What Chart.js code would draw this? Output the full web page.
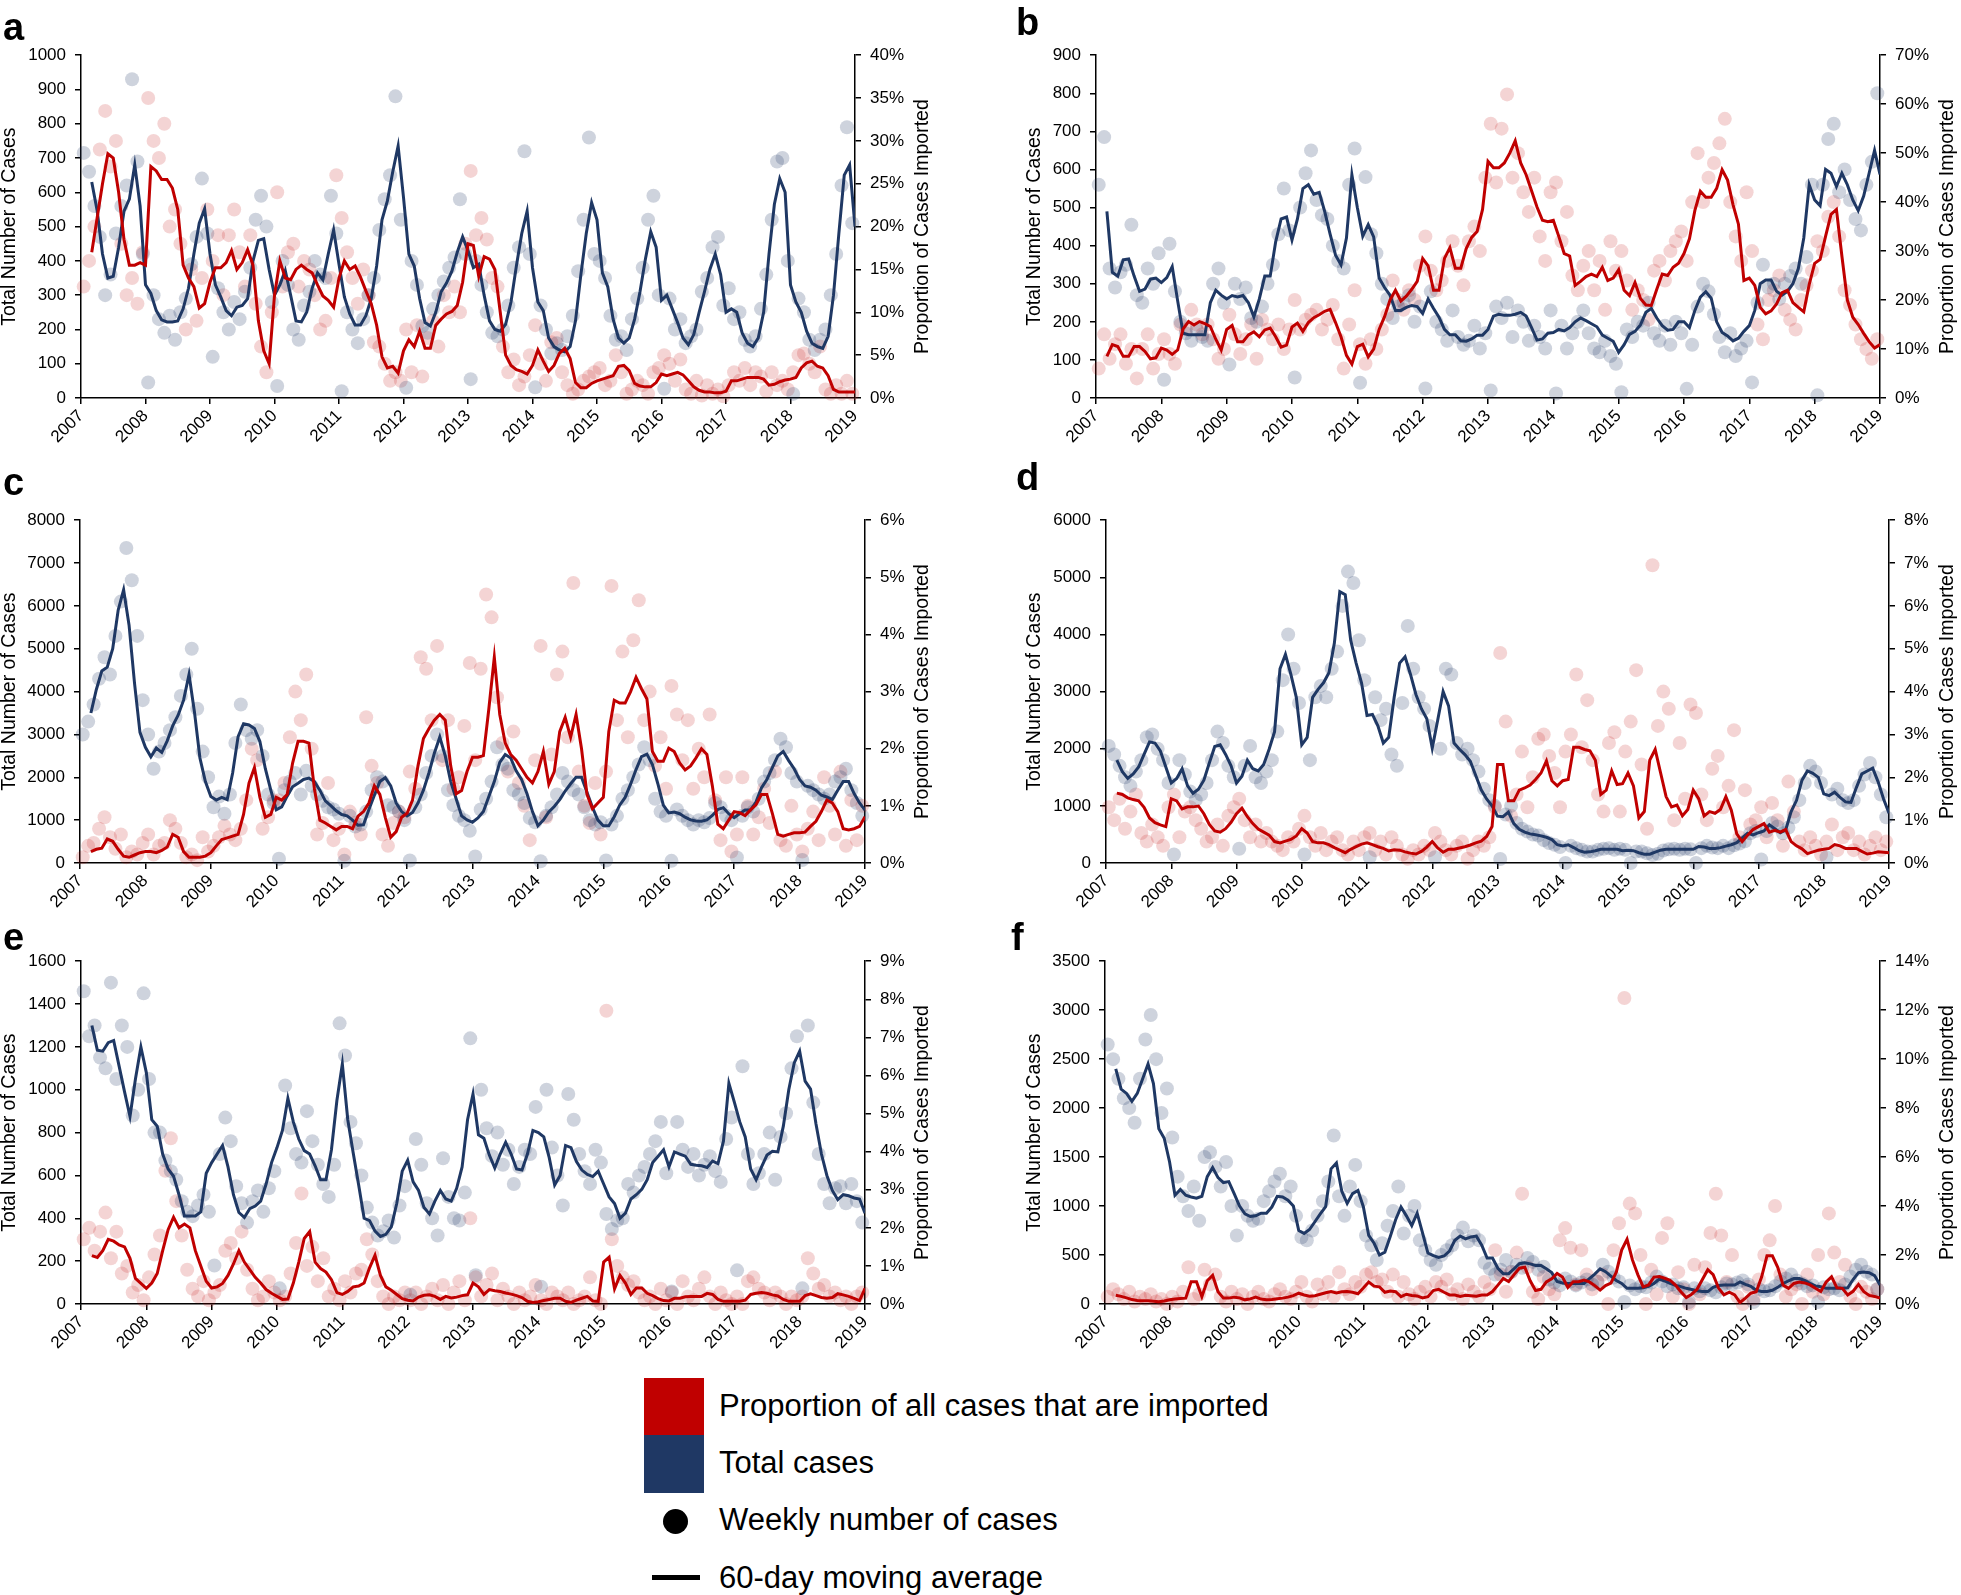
<!DOCTYPE html>
<html>
<head>
<meta charset="utf-8">
<script src="https://cdn.jsdelivr.net/npm/chart.js@4.4.1/dist/chart.umd.min.js"></script>
<style>
  html, body { margin: 0; padding: 0; background: #fff; }
  body { width: 1961px; height: 1595px; position: relative; overflow: hidden;
         font-family: "Liberation Sans", Arial, sans-serif; color: #000; }
  canvas { position: absolute; }
  .tag { position: absolute; font: bold 38px/38px "Liberation Sans", Arial, sans-serif; }
  .swatch { position: absolute; }
  .leg { position: absolute; left: 719px; height: 40px; line-height: 40px; font-size: 31px; white-space: nowrap; }
</style>
</head>
<body>
<canvas id="pa"></canvas><canvas id="pb"></canvas>
<canvas id="pc"></canvas><canvas id="pd"></canvas>
<canvas id="pe"></canvas><canvas id="pf"></canvas>

<div class="tag" style="left:3px;top:8px">a</div>
<div class="tag" style="left:1016px;top:3px">b</div>
<div class="tag" style="left:3px;top:463px">c</div>
<div class="tag" style="left:1016px;top:458px">d</div>
<div class="tag" style="left:3px;top:918px">e</div>
<div class="tag" style="left:1011px;top:918px">f</div>

<!-- legend -->
<div class="swatch" style="left:644px;top:1378px;width:60px;height:57px;background:#C00000"></div>
<div class="swatch" style="left:644px;top:1435px;width:60px;height:58px;background:#1F3864"></div>
<div class="swatch" style="left:663px;top:1509px;width:25px;height:25px;border-radius:50%;background:#000"></div>
<div class="swatch" style="left:652px;top:1575px;width:48px;height:5px;background:#000"></div>
<div class="leg" style="top:1386px">Proportion of all cases that are imported</div>
<div class="leg" style="top:1443px">Total cases</div>
<div class="leg" style="top:1500px">Weekly number of cases</div>
<div class="leg" style="top:1558px">60-day moving average</div>

<script>
// ---- data (monthly samples; x = 2007 + month/12) ----
const YEAR_TICKS = [2007, 2008, 2009, 2010, 2011, 2012, 2013, 2014, 2015, 2016, 2017, 2018, 2019];

// panel a
const aTotal = [
  null, null, 630, 547, 420, 350, 355, 440, 545, 580, 680, 560,
  330, 305, 255, 228, 222, 222, 225, 260, 320, 420, 510, 552,
  420, 330, 295, 255, 240, 265, 270, 290, 400, 460, 465, 375,
  300, 330, 372, 300, 225, 222, 251, 320, 365, 345, 420, 490,
  390, 295, 245, 213, 213, 240, 290, 385, 520, 575, 660, 735,
  585, 420, 385, 290, 220, 210, 250, 310, 335, 370, 425, 470,
  430, 380, 390, 300, 225, 200, 195, 215, 280, 385, 480, 545,
  380, 280, 255, 175, 150, 140, 135, 150, 225, 360, 480, 570,
  520, 365, 325, 230, 175, 160, 175, 230, 310, 405, 485, 440,
  285, 300, 260, 220, 175, 155, 185, 250, 310, 375, 420, 360,
  250, 260, 250, 190, 160, 150, 175, 250, 420, 565, 640, 600,
  330, 280, 250, 195, 160, 150, 145, 180, 300, 480, 650, 680,
  500];
const aImport = [
  null, null, 17, 21, 25, 28.5, 28, 24, 18.5, 15.5, 15.5, 15.8,
  15.5, 27, 26.5, 25.5, 25.5, 24.5, 22, 15.5, 14, 13, 10.5, 11,
  13.5, 15.2, 15.2, 15.8, 17.2, 15, 15.8, 17.3, 15.5, 9, 5.5, 4,
  12, 16, 14, 13.8, 15, 15.5, 15, 14.6, 13.2, 11.9, 11.4, 10.6,
  14, 16, 15, 15.4, 14.1, 12.5, 11, 8.5, 4.8, 3.5, 3.7, 2.9,
  5.5, 6.8, 6, 7.8, 5.8, 5.8, 8.5, 9.2, 9.8, 10.1, 10.8, 13.5,
  18, 17.8, 14.2, 16.5, 16.2, 15, 10, 5, 3.8, 3.3, 3.1, 2.8,
  3.8, 5.6, 4.3, 3.1, 3.8, 5.2, 5.8, 4.6, 1.8, 1.2, 1.2, 1.7,
  2, 2.2, 2.4, 2.6, 3.7, 3.8, 3.2, 1.7, 1.4, 1.3, 1.3, 1.8,
  2.8, 2.6, 2.8, 3, 2.7, 2, 1.3, 0.9, 0.7, 0.7, 0.6, 0.6,
  0.8, 2, 2, 2.2, 2.4, 2.4, 2.4, 2.2, 1.5, 1.6, 1.9, 2.1,
  2.2, 2.4, 3.5, 4.1, 4.3, 3.7, 3.5, 2.6, 1, 0.7, 0.7, 0.7,
  0.7];
const aTotalDots = [
  715, 660, 560, 470, 300, 360, 480, 560, 620, 930, 690, 420,
  45, 300, 230, 190, 240, 170, 250, 290, 390, 470, 640, 480,
  120, 320, 250, 200, 280, 230, 310, 380, 520, 590, 500, 280,
  35, 400, 330, 200, 170, 270, 310, 400, 360, 350, 590, 480,
  20, 250, 200, 160, 230, 300, 350, 490, 580, 650, 880, 520,
  30, 400, 330, 210, 190, 260, 300, 340, 380, 410, 580, 420,
  55, 400, 330, 250, 190, 180, 200, 270, 380, 440, 720, 420,
  31, 270, 200, 130, 160, 140, 180, 240, 370, 520, 760, 420,
  400, 350, 240, 170, 180, 140, 230, 290, 380, 520, 590, 300,
  27, 290, 200, 230, 160, 180, 200, 310, 350, 440, 470, 270,
  320, 230, 250, 170, 150, 180, 260, 360, 520, 690, 700, 400,
  12, 290, 250, 170, 140, 170, 200, 300, 420, 620, 790, 510];
const aImportDots = [
  13, 16, 20, 29, 33.5, 27, 30, 18, 12, 14, 11, 17,
  35, 30, 28, 32, 20, 22, 18, 8, 15, 9, 14, 22,
  16, 19, 12, 19, 22, 17, 13, 19, 11, 6, 3, 10,
  24, 13, 17, 18, 13, 16, 15, 12, 8, 9, 14, 26,
  21, 17, 14, 11, 15, 12, 6.5, 6, 4, 2, 3, 2,
  8, 3, 8.5, 2.5, 7, 9, 6, 12, 10, 13, 10, 18,
  26.5, 19, 21, 18.5, 14, 13, 6, 3, 4.5, 1.5, 2.5, 5,
  8.5, 4, 2, 6.5, 7, 3, 1.5, 0.5, 1, 2, 2.5, 3,
  3.5, 1.5, 2, 5, 3, 0.5, 1, 2, 1.5, 0.5, 3, 3.5,
  5, 4, 2, 4.5, 1, 0.5, 2, 0.3, 1.5, 0.5, 1, 0.2,
  1.5, 3, 2, 3.5, 1.5, 3, 2.5, 0.8, 3, 1.5, 2, 1,
  3, 5, 5.2, 4, 3, 6, 1, 0.5, 1.5, 0.5, 2, 0.5];

// panel b
const bTotal = [
  null, null, 490, 330, 320, 363, 365, 320, 280, 286, 312, 315,
  303, 316, 345, 255, 170, 166, 166, 166, 166, 250, 283, 270,
  260, 269, 265, 269, 250, 213, 260, 320, 320, 410, 470, 475,
  415, 470, 550, 560, 535, 540, 490, 430, 375, 350, 420, 586,
  500, 425, 455, 423, 315, 290, 270, 230, 230, 238, 243, 240,
  222, 260, 235, 212, 180, 166, 166, 150, 149, 155, 165, 165,
  180, 215, 220, 217, 217, 220, 225, 215, 185, 152, 155, 170,
  172, 180, 176, 185, 200, 210, 203, 195, 187, 165, 157, 149,
  120, 140, 167, 175, 192, 225, 235, 210, 190, 178, 180, 200,
  200, 185, 230, 265, 279, 262, 200, 172, 163, 150, 157, 175,
  190, 230, 300, 310, 310, 280, 270, 280, 300, 340, 420, 560,
  520, 505, 600, 590, 555, 590, 560, 520, 492, 530, 590, 650,
  587];
const bImport = [
  null, null, 8.5, 10.9, 10.5, 8.5, 8.5, 10.5, 10.5, 9.5, 8, 8.2,
  10.2, 9.8, 8.9, 9.8, 14.1, 15.6, 14.9, 15.6, 15.2, 14.6, 12, 9.8,
  14, 14.8, 11.5, 11.5, 12.9, 13.5, 12.5, 13.9, 14.3, 12.5, 10.4, 10.8,
  14.5, 15.3, 13.6, 15.4, 16.4, 17, 17.7, 18.1, 15.4, 12.5, 8.7, 6.9,
  10.5, 11, 8.4, 10, 14, 16.6, 20, 22, 19.8, 20.8, 22.2, 23.8,
  28.5, 27, 22, 22, 28.5, 30.7, 26.5, 26.5, 30.5, 32.8, 34, 38.5,
  48.3, 47, 47, 48, 50, 52.5, 48, 45.6, 42.3, 39, 36.3, 36,
  36.3, 33, 29.5, 29, 23, 23.8, 24.8, 25.3, 24.8, 26.7, 24, 24.5,
  26.2, 22, 20.9, 23.6, 20.3, 19, 18.9, 22.2, 25.3, 25, 26.7, 27.5,
  29.5, 32.5, 38.3, 42.2, 41, 41, 42.8, 46.6, 44.5, 39.5, 35.5, 24,
  24.5, 23, 18.5, 17.2, 17.8, 19.2, 21.5, 22, 19.5, 18.5, 17.6, 23.2,
  27.5, 28.3, 33, 37.5, 38.5, 29, 20, 16.5, 15, 13.2, 11.5, 10.2,
  10.9];
const bTotalDots = [
  560, 685, 340, 290, 330, 350, 455, 270, 250, 340, 300, 380,
  48, 405, 280, 200, 170, 150, 180, 160, 150, 300, 340, 250,
  88, 300, 260, 290, 210, 200, 240, 300, 350, 430, 550, 440,
  54, 500, 590, 650, 520, 480, 470, 400, 360, 340, 560, 655,
  40, 580, 430, 380, 300, 260, 210, 240, 250, 270, 200, 240,
  25, 280, 200, 180, 150, 230, 160, 140, 150, 190, 130, 170,
  20, 240, 210, 250, 160, 230, 200, 150, 190, 160, 130, 230,
  12, 190, 130, 170, 200, 230, 170, 130, 120, 150, 110, 90,
  15, 180, 160, 200, 190, 250, 170, 150, 190, 140, 200, 170,
  24, 140, 240, 300, 280, 220, 160, 120, 170, 110, 130, 150,
  41, 250, 350, 290, 300, 260, 300, 320, 340, 300, 370, 560,
  7, 560, 680, 720, 540, 600, 520, 470, 440, 560, 620, 800];
const bImportDots = [
  6, 13, 8, 11, 13, 7, 10, 4, 10, 13, 6, 9,
  12, 9, 7, 15, 14, 18, 15, 13, 15, 12, 8, 10,
  17, 13, 9, 12, 15, 8, 16, 14, 12, 15, 10, 14,
  20, 14, 16, 17, 18, 14, 16, 19, 12, 6, 15, 22,
  11, 7, 12, 10, 14, 17, 24, 20, 18, 22, 20, 27,
  33, 26, 22, 24, 28, 32, 27, 23, 32, 35, 30, 45,
  56, 44, 55, 62, 45, 50, 42, 38, 45, 33, 28, 42,
  44, 32, 38, 25, 22, 27, 30, 22, 28, 18, 32, 26,
  30, 24, 18, 22, 20, 16, 26, 28, 24, 30, 32, 34,
  28, 40, 50, 40, 45, 48, 52, 57, 40, 33, 28, 42,
  30, 15, 12, 20, 22, 25, 18, 16, 14, 20, 23, 26,
  32, 30, 37, 40, 33, 22, 19, 15, 12, 10, 8, 12];

// panel c
const cTotal = [
  null, null, 3500, 4050, 4480, 4570, 5000, 5900, 6377, 5550, 4200, 3050,
  2700, 2480, 2682, 2580, 2850, 3200, 3450, 3800, 4400, 3520, 2450, 1900,
  1550, 1470, 1530, 1480, 2100, 2950, 3250, 3220, 3140, 2834, 2200, 1700,
  1240, 1310, 1560, 1780, 1860, 1950, 1980, 1900, 1700, 1450, 1340, 1220,
  1130, 1100, 1000, 880, 890, 1250, 1580, 1900, 1990, 1800, 1400, 1200,
  1100, 1180, 1400, 1700, 2100, 2560, 2940, 2500, 1900, 1500, 1100, 1006,
  950, 1050, 1200, 1550, 1900, 2350, 2530, 2450, 2150, 1950, 1615, 1200,
  870, 1000, 1190, 1320, 1480, 1680, 1850, 2000, 2000, 1650, 1300, 1000,
  870, 870, 1080, 1350, 1530, 1840, 2180, 2480, 2540, 2300, 1850, 1350,
  1170, 1190, 1150, 1070, 1006, 980, 975, 1006, 1110, 1250, 1290, 1150,
  1060, 1150, 1234, 1234, 1420, 1750, 1950, 2225, 2500, 2600, 2390, 2200,
  1950, 1800, 1768, 1700, 1580, 1540, 1480, 1700, 1900, 1900, 1620, 1400,
  1234];
const cImport = [
  null, null, 0.2, 0.24, 0.26, 0.42, 0.38, 0.24, 0.12, 0.1, 0.14, 0.18,
  0.2, 0.2, 0.18, 0.22, 0.28, 0.5, 0.45, 0.2, 0.1, 0.1, 0.1, 0.12,
  0.18, 0.3, 0.41, 0.44, 0.47, 0.5, 0.85, 1.4, 1.67, 1.15, 0.8, 0.85,
  1.15, 1.1, 1.2, 1.75, 2.13, 2.13, 2.1, 1.3, 0.75, 0.7, 0.64, 0.58,
  0.64, 0.64, 0.6, 0.82, 0.9, 1.05, 1.35, 1.2, 0.8, 0.45, 0.55, 0.8,
  0.87, 1.1, 1.7, 2.18, 2.35, 2.5, 2.6, 2.5, 1.7, 1.21, 1.27, 1.6,
  1.85, 1.85, 1.88, 2.7, 3.6, 2.6, 2.1, 1.9, 1.8, 1.65, 1.5, 1.4,
  1.6, 1.95, 1.38, 1.6, 2.3, 2.55, 2.2, 2.6, 2, 1.2, 0.95, 1.05,
  1.15, 2.3, 2.85, 2.8, 2.8, 3, 3.25, 3.05, 2.87, 1.95, 1.78, 1.78,
  2.01, 1.95, 1.75, 1.63, 1.7, 1.84, 2, 1.9, 1.35, 0.68, 0.6, 0.75,
  0.9, 0.88, 0.83, 0.93, 1.02, 1.2, 1.2, 0.87, 0.5, 0.47, 0.5, 0.53,
  0.53, 0.54, 0.64, 0.73, 0.9, 1.1, 1.05, 0.9, 0.6, 0.58, 0.6, 0.64,
  0.81];
const cTotalDots = [
  3000, 3300, 3700, 4300, 4800, 4400, 5300, 6100, 7350, 6600, 5300, 3800,
  3000, 2200, 2600, 2800, 3100, 3400, 3900, 4400, 5000, 3600, 2600, 2000,
  1300, 1550, 1150, 1600, 2800, 3700, 3100, 2900, 3100, 2500, 1600, 1400,
  100, 1700, 1900, 2100, 1600, 2150, 1800, 1600, 1450, 1300, 1250, 1150,
  50, 1100, 850, 900, 1200, 1700, 2000, 1900, 1350, 1300, 1200, 1000,
  60, 1300, 1600, 2100, 2500, 3000, 2500, 1700, 1350, 1100, 1000, 750,
  150, 1250, 1500, 1900, 2700, 2300, 2200, 1700, 1600, 1400, 1050, 950,
  40, 1100, 1300, 1600, 2100, 1900, 1700, 1600, 1300, 1000, 900, 950,
  60, 900, 1100, 1500, 1700, 2000, 2300, 2700, 2400, 1500, 1200, 1100,
  50, 1250, 1100, 1000, 900, 1000, 950, 1050, 1400, 1300, 1100, 1000,
  130, 1100, 1300, 1200, 1500, 1900, 2100, 2400, 2900, 2700, 2100, 1900,
  70, 1800, 1700, 1600, 1500, 1600, 1900, 2000, 2200, 1700, 1400, 1100];
const cImportDots = [
  0.1, 0.3, 0.35, 0.6, 0.8, 0.45, 0.25, 0.5, 0.1, 0.2, 0.15, 0.35,
  0.5, 0.15, 0.3, 0.35, 0.75, 0.6, 0.35, 0.1, 0.15, 0.05, 0.45, 0.2,
  0.3, 0.45, 0.65, 0.5, 0.4, 0.6, 1.1, 2, 1.8, 0.6, 0.8, 1.1,
  1.1, 1.4, 2.2, 3, 2.5, 3.3, 2, 0.5, 0.7, 1.4, 0.4, 0.6,
  0.15, 0.9, 0.7, 0.5, 2.55, 1.7, 1.4, 0.5, 0.3, 0.7, 0.9, 0.8,
  1.6, 1.3, 3.6, 3.4, 2.5, 3.8, 1.8, 2.5, 1.3, 1.5, 2.4, 3.5,
  1.8, 3.4, 4.7, 4.3, 2.9, 2.1, 1.6, 2.3, 1.4, 1, 0.4, 1.8,
  3.8, 0.8, 1.9, 3.3, 3.7, 2.2, 4.9, 1.6, 1, 0.7, 1.4, 0.5,
  1.6, 4.85, 2.5, 3.7, 2.2, 3.9, 4.6, 2.5, 3, 1.7, 2.2, 1.3,
  3.1, 2.6, 1.8, 2.5, 1.3, 2, 1.5, 2.6, 1.1, 0.4, 1.5, 0.2,
  0.5, 1.5, 1, 0.5, 0.8, 1.3, 0.7, 1.6, 0.4, 0.3, 1, 0.5,
  0.2, 0.6, 0.9, 0.4, 1.5, 1, 0.5, 1.6, 0.3, 1.1, 0.4, 1];

// panel d
const dTotal = [
  null, null, 1800, 1600, 1480, 1560, 1680, 1900, 2120, 2100, 1960, 1680,
  1400, 1480, 1650, 1350, 1220, 1290, 1450, 1750, 2040, 2070, 1900, 1700,
  1400, 1520, 1800, 1650, 1611, 1726, 1990, 2300, 3400, 3650, 3300, 2900,
  2068, 2200, 2900, 3040, 3154, 3330, 3850, 4750, 4697, 3900, 3500, 3150,
  2583, 2600, 2400, 2100, 2200, 2900, 3500, 3611, 3300, 2950, 2700, 2526,
  2011, 2500, 3000, 2750, 2100, 1990, 1897, 1780, 1530, 1280, 1120, 1000,
  820, 811, 890, 690, 590, 540, 510, 495, 475, 450, 410, 320,
  300, 320, 270, 215, 190, 195, 215, 240, 240, 240, 240, 215,
  222, 215, 180, 154, 154, 190, 225, 240, 240, 240, 240, 240,
  240, 290, 280, 255, 255, 269, 295, 320, 355, 440, 520, 490,
  530, 560, 670, 600, 530, 580, 900, 1097, 1450, 1611, 1570, 1500,
  1211, 1180, 1240, 1150, 1070, 1060, 1320, 1560, 1611, 1660, 1420, 1120,
  870];
const dImport = [
  null, null, 1.63, 1.6, 1.52, 1.48, 1.45, 1.3, 1.05, 0.94, 0.89, 0.85,
  1.5, 1.45, 1.26, 1.31, 1.31, 1.33, 1.15, 0.9, 0.75, 0.72, 0.8, 0.95,
  1.15, 1.28, 1.08, 0.92, 0.79, 0.72, 0.65, 0.5, 0.47, 0.51, 0.55, 0.63,
  0.8, 0.7, 0.5, 0.47, 0.47, 0.43, 0.36, 0.3, 0.24, 0.32, 0.38, 0.44,
  0.47, 0.43, 0.38, 0.34, 0.28, 0.31, 0.3, 0.26, 0.23, 0.21, 0.27, 0.37,
  0.5, 0.35, 0.25, 0.32, 0.32, 0.35, 0.38, 0.42, 0.47, 0.51, 0.62, 0.85,
  2.3, 2.3, 1.45, 1.45, 1.7, 1.75, 1.82, 1.95, 2.1, 2.38, 1.92, 1.8,
  1.92, 1.95, 2.7, 2.7, 2.65, 2.62, 2.4, 1.6, 1.7, 2.15, 1.83, 1.85,
  2.1, 1.8, 1.05, 1.2, 2.4, 2.65, 2.1, 1.55, 1.31, 1.35, 1.1, 1.25,
  1.7, 1.5, 1.1, 1.2, 1.16, 1.25, 1.55, 1.23, 0.68, 0.5, 0.65, 0.78,
  0.85, 0.92, 0.72, 0.76, 0.72, 0.78, 0.5, 0.4, 0.33, 0.22, 0.26, 0.3,
  0.32, 0.34, 0.43, 0.4, 0.34, 0.34, 0.34, 0.27, 0.21, 0.23, 0.26, 0.25,
  0.24];
const dTotalDots = [
  2050, 1900, 1700, 1500, 1350, 1600, 1800, 2200, 2250, 2000, 1800, 1400,
  150, 1800, 1550, 1250, 1100, 1200, 1400, 1800, 2300, 2100, 1700, 1500,
  250, 1700, 2050, 1500, 1400, 1600, 1800, 2300, 3200, 4000, 3400, 2800,
  150, 1800, 2900, 3100, 2900, 3400, 3700, 4500, 5100, 4900, 3900, 3200,
  100, 2900, 2500, 2700, 1900, 1700, 2800, 4150, 3400, 2900, 2700, 2400,
  100, 2000, 3400, 3300, 2100, 1900, 2000, 1800, 1600, 1300, 1100, 1000,
  70, 850, 1000, 700, 600, 550, 500, 480, 400, 350, 320, 280,
  0, 300, 260, 230, 200, 200, 230, 250, 260, 230, 250, 230,
  0, 200, 200, 170, 140, 160, 220, 240, 250, 230, 250, 240,
  0, 260, 300, 270, 260, 300, 260, 310, 340, 380, 520, 560,
  60, 560, 700, 640, 520, 620, 800, 1100, 1400, 1700, 1600, 1400,
  100, 1200, 1300, 1100, 1050, 1100, 1350, 1550, 1750, 1500, 1200, 800];
const dImportDots = [
  1.3, 1, 1.5, 0.8, 1.2, 1.6, 0.7, 0.5, 0.9, 0.6, 0.4, 1.3,
  1.6, 0.6, 1.2, 1.3, 1, 0.8, 0.5, 0.6, 0.9, 0.4, 1.1, 1.3,
  1.5, 1, 0.6, 0.9, 0.5, 0.7, 0.5, 0.4, 0.3, 0.6, 0.5, 0.8,
  1.1, 0.6, 0.4, 0.7, 0.3, 0.5, 0.6, 0.3, 0.2, 0.5, 0.3, 0.6,
  0.7, 0.3, 0.5, 0.2, 0.6, 0.4, 0.2, 0.1, 0.3, 0.2, 0.4, 0.3,
  0.7, 0.5, 0.3, 0.2, 0.4, 0.5, 0.1, 0.3, 0.5, 0.4, 0.6, 1.3,
  4.9, 3.3, 1.1, 1.6, 2.6, 1.3, 2, 2.9, 3, 2.5, 2.1, 1.3,
  2.6, 3, 4.4, 2.7, 3.8, 2.4, 1.6, 1.2, 2.8, 3.05, 1.2, 2.6,
  3.3, 4.5, 2.3, 0.8, 6.95, 3.2, 4, 3.6, 1, 2.8, 1.5, 3.7,
  3.5, 1.6, 1, 2.2, 2.5, 1.3, 1.8, 3.1, 0.6, 1.7, 0.9, 1,
  1.3, 0.6, 1.4, 1, 0.4, 1.9, 1.2, 0.5, 0.3, 0.6, 0.4, 0.2,
  0.5, 0.9, 0.3, 0.6, 0.7, 0.3, 0.5, 0.2, 0.4, 0.6, 0.3, 0.5];

// panel e
const eTotal = [
  null, null, 1300, 1185, 1180, 1220, 1230, 1110, 990, 875, 1050, 1200,
  1080, 860, 830, 700, 630, 596, 510, 411, 411, 411, 430, 610,
  660, 700, 740, 640, 510, 427, 404, 445, 457, 480, 560, 660,
  730, 810, 960, 850, 770, 716, 700, 645, 580, 580, 720, 950,
  1120, 860, 705, 555, 400, 389, 340, 315, 325, 360, 470, 620,
  671, 570, 530, 450, 420, 480, 530, 490, 480, 540, 640, 860,
  980, 790, 774, 695, 635, 700, 755, 700, 630, 625, 700, 810,
  800, 780, 683, 555, 600, 740, 730, 665, 625, 605, 595, 620,
  560, 500, 469, 400, 424, 490, 510, 535, 580, 660, 690, 720,
  640, 710, 700, 690, 652, 648, 645, 637, 667, 655, 760, 1030,
  942, 850, 780, 630, 580, 640, 695, 713, 710, 830, 1000, 1125,
  1180, 1040, 1003, 840, 700, 600, 530, 487, 510, 505, 495, 490,
  424];
const eImport = [
  null, null, 1.27, 1.22, 1.4, 1.7, 1.65, 1.55, 1.5, 1.2, 0.67, 0.54,
  0.41, 0.55, 0.8, 1.4, 1.95, 2.28, 2, 2.1, 2, 1.4, 1, 0.6,
  0.42, 0.45, 0.54, 0.75, 1.05, 1.4, 1.1, 0.9, 0.7, 0.55, 0.38, 0.28,
  0.2, 0.12, 0.13, 0.55, 1.1, 1.72, 1.9, 1.1, 0.93, 0.84, 0.64, 0.3,
  0.25, 0.33, 0.45, 0.47, 0.55, 0.95, 1.28, 0.75, 0.45, 0.36, 0.25, 0.14,
  0.1, 0.08, 0.18, 0.23, 0.24, 0.2, 0.12, 0.2, 0.16, 0.18, 0.22, 0.24,
  0.55, 0.45, 0.25, 0.38, 0.35, 0.33, 0.29, 0.26, 0.22, 0.17, 0.07, 0.04,
  0.06, 0.09, 0.12, 0.15, 0.15, 0.07, 0.04, 0.1, 0.15, 0.2, 0.08, 0.07,
  1.1, 1.23, 0.4, 0.75, 0.55, 0.25, 0.42, 0.42, 0.28, 0.22, 0.14, 0.09,
  0.08, 0.15, 0.15, 0.19, 0.2, 0.2, 0.2, 0.28, 0.25, 0.12, 0.07, 0.07,
  0.07, 0.07, 0.1, 0.25, 0.28, 0.3, 0.28, 0.24, 0.21, 0.12, 0.07, 0.07,
  0.07, 0.22, 0.27, 0.22, 0.17, 0.15, 0.17, 0.27, 0.24, 0.2, 0.15, 0.09,
  0.41];
const eTotalDots = [
  1460, 1250, 1300, 1150, 1100, 1500, 1050, 1300, 1200, 880, 1000, 1450,
  1050, 800, 800, 670, 620, 580, 480, 430, 410, 460, 510, 430,
  180, 700, 870, 760, 550, 470, 380, 480, 530, 430, 540, 620,
  73, 1020, 820, 700, 660, 900, 760, 650, 560, 500, 650, 1310,
  1160, 850, 750, 600, 450, 380, 320, 340, 390, 310, 460, 550,
  43, 770, 650, 470, 400, 320, 680, 500, 400, 390, 520, 1240,
  134, 1000, 820, 690, 800, 650, 720, 560, 640, 720, 700, 920,
  81, 1000, 730, 600, 460, 980, 860, 700, 620, 560, 720, 660,
  420, 350, 390, 400, 560, 520, 600, 640, 700, 760, 850, 610,
  58, 850, 720, 640, 700, 600, 650, 690, 620, 570, 770, 870,
  157, 1110, 700, 560, 610, 700, 800, 580, 780, 890, 1100, 1250,
  73, 1300, 940, 700, 560, 470, 540, 550, 470, 560, 480, 380];
const eImportDots = [
  1.7, 2, 1.4, 1.9, 2.4, 1.2, 1.9, 0.8, 1, 0.3, 0.5, 0.1,
  0.7, 1.3, 1.8, 3.5, 4.35, 2.7, 1.8, 0.9, 0.4, 0.2, 0.6, 0.1,
  0.3, 0.5, 1.4, 1.6, 1.2, 1.9, 0.9, 0.4, 0.1, 0.2, 0.6, 0.3,
  0.1, 0.2, 0.8, 1.6, 2.9, 1, 1.5, 0.6, 1.2, 0.2, 0.4, 0.1,
  0.6, 0.3, 0.8, 0.9, 1.7, 1.3, 0.6, 0.2, 0, 0.2, 0.1, 0.3,
  0.1, 0.3, 0, 0.2, 0.4, 0.1, 0.5, 0, 0.3, 0.6, 0.1, 2.25,
  0.7, 0.2, 0.5, 0.8, 0.1, 0.4, 0.2, 0, 0.3, 0.1, 0.2, 0.5,
  0.1, 0, 0.3, 0.2, 0.1, 0.3, 0, 0.1, 0.2, 0.7, 0.1, 0,
  7.7, 1.7, 1, 0.7, 0.5, 0.6, 0.3, 0.1, 0.2, 0, 0.4, 0.1,
  0.3, 0, 0.6, 0.2, 0.1, 0.4, 0.7, 0.2, 0, 0.3, 0.1, 0,
  0.2, 0, 0.6, 0.7, 0.4, 0.3, 0.1, 0.3, 0.2, 0, 0.2, 0.1,
  0.2, 1.2, 0.8, 0.4, 0.5, 0.2, 0.3, 0.1, 0.2, 0, 0.2, 0.3];

// panel f
const fTotal = [
  null, null, 2400, 2193, 2150, 2070, 2150, 2300, 2450, 2250, 1790, 1693,
  1450, 1110, 1170, 1110, 1093, 1080, 1100, 1300, 1393, 1290, 1240, 1250,
  1127, 1000, 920, 893, 900, 927, 927, 990, 1100, 1093, 1060, 1000,
  750, 720, 760, 840, 920, 995, 1380, 1440, 1150, 1027, 1127, 1160,
  993, 700, 620, 500, 530, 690, 860, 990, 900, 800, 927, 727,
  520, 493, 475, 490, 540, 650, 693, 665, 685, 693, 600, 470,
  470, 365, 310, 310, 360, 412, 420, 410, 393, 393, 360, 320,
  230, 215, 210, 210, 210, 210, 260, 305, 360, 330, 285, 240,
  210, 160, 160, 160, 165, 180, 210, 255, 235, 210, 190, 177,
  160, 148, 135, 127, 127, 170, 190, 193, 193, 193, 225, 200,
  180, 140, 127, 127, 140, 170, 210, 235, 260, 260, 240, 210,
  185, 177, 160, 160, 160, 160, 165, 250, 320, 327, 320, 290,
  193];
const fImport = [
  null, null, 0.36, 0.31, 0.25, 0.18, 0.14, 0.13, 0.13, 0.11, 0.09, 0.12,
  0.17, 0.2, 0.22, 0.24, 0.91, 0.91, 0.3, 0.95, 1.17, 0.5, 0.24, 0.24,
  0.28, 0.25, 0.17, 0.21, 0.28, 0.2, 0.17, 0.18, 0.21, 0.24, 0.28, 0.34,
  0.44, 0.37, 0.32, 0.34, 0.4, 0.46, 0.51, 0.45, 0.5, 0.51, 0.48, 0.42,
  0.65, 0.9, 0.73, 0.7, 0.48, 0.53, 0.5, 0.3, 0.4, 0.35, 0.33, 0.25,
  0.3, 0.55, 0.6, 0.48, 0.37, 0.37, 0.31, 0.36, 0.34, 0.32, 0.37, 0.37,
  0.51, 0.77, 1.04, 0.92, 1.2, 1.46, 1.5, 0.95, 0.55, 0.6, 0.9, 1.03,
  1.25, 1.1, 0.68, 0.91, 0.91, 0.98, 0.9, 0.75, 0.57, 0.75, 0.85, 1.3,
  2.2, 2.64, 1.8, 1.2, 0.7, 0.78, 1.1, 1.12, 1.05, 0.97, 0.77, 0.5,
  0.26, 0.4, 0.6, 1, 1.4, 1.2, 0.65, 0.37, 0.48, 0.37, 0.06, 0.24,
  0.44, 0.5, 1.1, 1.97, 1.97, 1.5, 0.77, 0.64, 0.84, 0.9, 0.86, 0.78,
  0.64, 0.51, 0.9, 1.11, 0.66, 0.64, 0.37, 0.52, 0.8, 0.5, 0.35, 0.31,
  0.24];
const fTotalDots = [
  2650, 2500, 2300, 2100, 2000, 1850, 2300, 2700, 2950, 2500, 1950, 2200,
  1700, 1300, 1100, 950, 1200, 850, 1500, 1550, 1400, 1200, 1450, 1000,
  700, 1000, 900, 850, 870, 1050, 1150, 1250, 1330, 1100, 1200, 900,
  680, 650, 750, 900, 1050, 1250, 1720, 1100, 900, 1200, 1420, 1050,
  700, 600, 450, 620, 800, 950, 1200, 720, 900, 1000, 650, 550,
  450, 400, 500, 550, 600, 700, 780, 640, 700, 650, 420, 360,
  300, 350, 450, 330, 400, 370, 470, 430, 350, 380, 250, 220,
  190, 260, 230, 190, 220, 250, 200, 230, 400, 330, 270, 230,
  20, 190, 150, 180, 170, 220, 280, 230, 180, 200, 160, 170,
  20, 160, 130, 160, 140, 120, 170, 210, 200, 220, 240, 200,
  20, 150, 130, 140, 180, 230, 260, 300, 240, 210, 180, 190,
  20, 170, 150, 160, 140, 200, 280, 350, 400, 330, 300, 150];
const fImportDots = [
  0.3, 0.6, 0.4, 0.2, 0.5, 0.1, 0.3, 0.2, 0.4, 0.1, 0.2, 0,
  0.3, 0.1, 0.5, 1.5, 0.2, 0.4, 1.4, 0.8, 1.2, 0.3, 0.1, 0.5,
  0.2, 0.4, 0, 0.3, 0.5, 0.2, 0.1, 0.4, 0.6, 0.3, 0.2, 0.5,
  0.9, 0.3, 0.1, 0.8, 0.4, 0.9, 0.3, 1.3, 0.6, 0.4, 0.9, 0.7,
  1.2, 1.3, 0.9, 1, 0.5, 1.2, 0.3, 0.9, 0.4, 0.2, 0.5, 0.7,
  0.3, 0.9, 0.7, 1, 0.4, 0.6, 0.2, 0.8, 0.5, 0.3, 0.9, 0.6,
  2.2, 1.2, 0.5, 1.3, 2.1, 4.5, 1.5, 0.5, 0.2, 1.1, 0.6, 0.4,
  2.6, 3.1, 2.3, 0.8, 2.2, 1.2, 0.6, 0.9, 1.2, 0, 2.2, 3.3,
  12.5, 4.1, 3.7, 2, 0, 1.4, 0.4, 2.7, 3.3, 0.3, 1.3, 0.6,
  0, 1.6, 0.4, 1.5, 2.9, 4.5, 2.8, 0.9, 2, 0.3, 0, 0.7,
  0.2, 1, 2, 2.6, 4, 1.2, 0.3, 0.6, 0.8, 0, 1.2, 0.5,
  2, 0.4, 3.7, 2.1, 0.9, 1.6, 0.3, 0, 0.7, 0.5, 0.2, 0.6];

// ---- styling ----
const NAVY = '#1F3864';
const RED = '#C00000';
const NAVY_DOT = 'rgba(31,56,100,0.22)';
const RED_DOT = 'rgba(192,0,0,0.17)';
const DOT_R = 7;
const FONT_FAMILY = '"Liberation Sans", Arial, sans-serif';
const TICK_FONT = { family: FONT_FAMILY, size: 17 };
const TITLE_FONT = '19.5px ' + FONT_FAMILY;

const PANELS = [
  { id: 'pa', total: aTotal, imported: aImport, totalDots: aTotalDots, importDots: aImportDots,
    leftMax: 1000, leftStep: 100, rightMax: 40, rightStep: 5,
    left: 0, top: 36, width: 937, leftW: 81, rightW: 82, leftTitleX: 10, rightTitleX: 923 },
  { id: 'pb', total: bTotal, imported: bImport, totalDots: bTotalDots, importDots: bImportDots,
    leftMax: 900, leftStep: 100, rightMax: 70, rightStep: 10,
    left: 1021, top: 36, width: 941, leftW: 75, rightW: 82, leftTitleX: 14, rightTitleX: 927 },
  { id: 'pc', total: cTotal, imported: cImport, totalDots: cTotalDots, importDots: cImportDots,
    leftMax: 8000, leftStep: 1000, rightMax: 6, rightStep: 1,
    left: 0, top: 501, width: 937, leftW: 80, rightW: 72, leftTitleX: 10, rightTitleX: 923 },
  { id: 'pd', total: dTotal, imported: dImport, totalDots: dTotalDots, importDots: dImportDots,
    leftMax: 6000, leftStep: 1000, rightMax: 8, rightStep: 1,
    left: 1021, top: 501, width: 941, leftW: 85, rightW: 73, leftTitleX: 14, rightTitleX: 927 },
  { id: 'pe', total: eTotal, imported: eImport, totalDots: eTotalDots, importDots: eImportDots,
    leftMax: 1600, leftStep: 200, rightMax: 9, rightStep: 1,
    left: 0, top: 942, width: 937, leftW: 81, rightW: 72, leftTitleX: 10, rightTitleX: 923 },
  { id: 'pf', total: fTotal, imported: fImport, totalDots: fTotalDots, importDots: fImportDots,
    leftMax: 3500, leftStep: 500, rightMax: 14, rightStep: 2,
    left: 1021, top: 942, width: 941, leftW: 84, rightW: 82, leftTitleX: 14, rightTitleX: 927 },
];
const PLOT_H = 350, PAD_TOP = 12, XAXIS_H = 60;

// moving averages sit on month starts, weekly clouds on month middles
const lineXY = arr => arr.map((v, i) => v == null ? null : { x: 2007 + i / 12, y: v }).filter(Boolean);
const dotXY = arr => arr.map((v, i) => ({ x: 2007 + (i + 0.5) / 12, y: v }));

// both side titles read bottom-to-top, so draw them ourselves
const sideTitles = {
  id: 'sideTitles',
  afterDraw(chart, args, opts) {
    const { ctx, chartArea } = chart;
    const cy = (chartArea.top + chartArea.bottom) / 2;
    ctx.save();
    ctx.fillStyle = '#000';
    ctx.font = TITLE_FONT;
    ctx.textAlign = 'center';
    ctx.textBaseline = 'middle';
    for (const [x, text] of [[opts.leftX, opts.left], [opts.rightX, opts.right]]) {
      ctx.save();
      ctx.translate(x, cy);
      ctx.rotate(-Math.PI / 2);
      ctx.fillText(text, 0, 0);
      ctx.restore();
    }
    ctx.restore();
  }
};

function axisBase() {
  return {
    grid: { drawOnChartArea: false, color: '#000', tickLength: 6, lineWidth: 1.5 },
    border: { color: '#000', width: 1.5 },
  };
}

function buildPanel(p) {
  const canvas = document.getElementById(p.id);
  const height = PAD_TOP + PLOT_H + XAXIS_H;
  canvas.width = p.width;
  canvas.height = height;
  canvas.style.left = p.left + 'px';
  canvas.style.top = p.top + 'px';
  canvas.style.width = p.width + 'px';
  canvas.style.height = height + 'px';

  return new Chart(canvas, {
    type: 'scatter',
    data: {
      datasets: [
        { data: dotXY(p.importDots), yAxisID: 'y2', showLine: false, pointRadius: DOT_R,
          pointBackgroundColor: RED_DOT, pointBorderWidth: 0, order: 4, clip: false },
        { data: dotXY(p.totalDots), yAxisID: 'y', showLine: false, pointRadius: DOT_R,
          pointBackgroundColor: NAVY_DOT, pointBorderWidth: 0, order: 3, clip: false },
        { data: lineXY(p.total), yAxisID: 'y', showLine: true, borderColor: NAVY,
          borderWidth: 3, pointRadius: 0, tension: 0, order: 2 },
        { data: lineXY(p.imported), yAxisID: 'y2', showLine: true, borderColor: RED,
          borderWidth: 3, pointRadius: 0, tension: 0, order: 1 },
      ]
    },
    options: {
      responsive: false,
      animation: false,
      devicePixelRatio: 1,
      events: [],
      layout: { padding: { top: PAD_TOP, left: 0, right: 0, bottom: 0 } },
      plugins: {
        legend: { display: false },
        tooltip: { enabled: false },
        sideTitles: { left: 'Total Number of Cases', right: 'Proportion of Cases Imported',
                      leftX: p.leftTitleX, rightX: p.rightTitleX },
      },
      scales: {
        x: {
          ...axisBase(),
          type: 'linear', min: 2007, max: 2019,
          afterBuildTicks: s => { s.ticks = YEAR_TICKS.map(v => ({ value: v })); },
          afterFit: s => { s.height = XAXIS_H; },
          ticks: { font: TICK_FONT, color: '#000', minRotation: 45, maxRotation: 45,
                   padding: 2, autoSkip: false, callback: v => String(v) },
        },
        y: {
          ...axisBase(),
          position: 'left', min: 0, max: p.leftMax,
          afterFit: s => { s.width = p.leftW; },
          ticks: { stepSize: p.leftStep, font: TICK_FONT, color: '#000', padding: 9,
                   callback: v => String(v) },
        },
        y2: {
          ...axisBase(),
          position: 'right', min: 0, max: p.rightMax,
          afterFit: s => { s.width = p.rightW; },
          ticks: { stepSize: p.rightStep, font: TICK_FONT, color: '#000', padding: 9,
                   callback: v => v + '%' },
        },
      }
    },
    plugins: [sideTitles]
  });
}

PANELS.forEach(buildPanel);
</script>
</body>
</html>
